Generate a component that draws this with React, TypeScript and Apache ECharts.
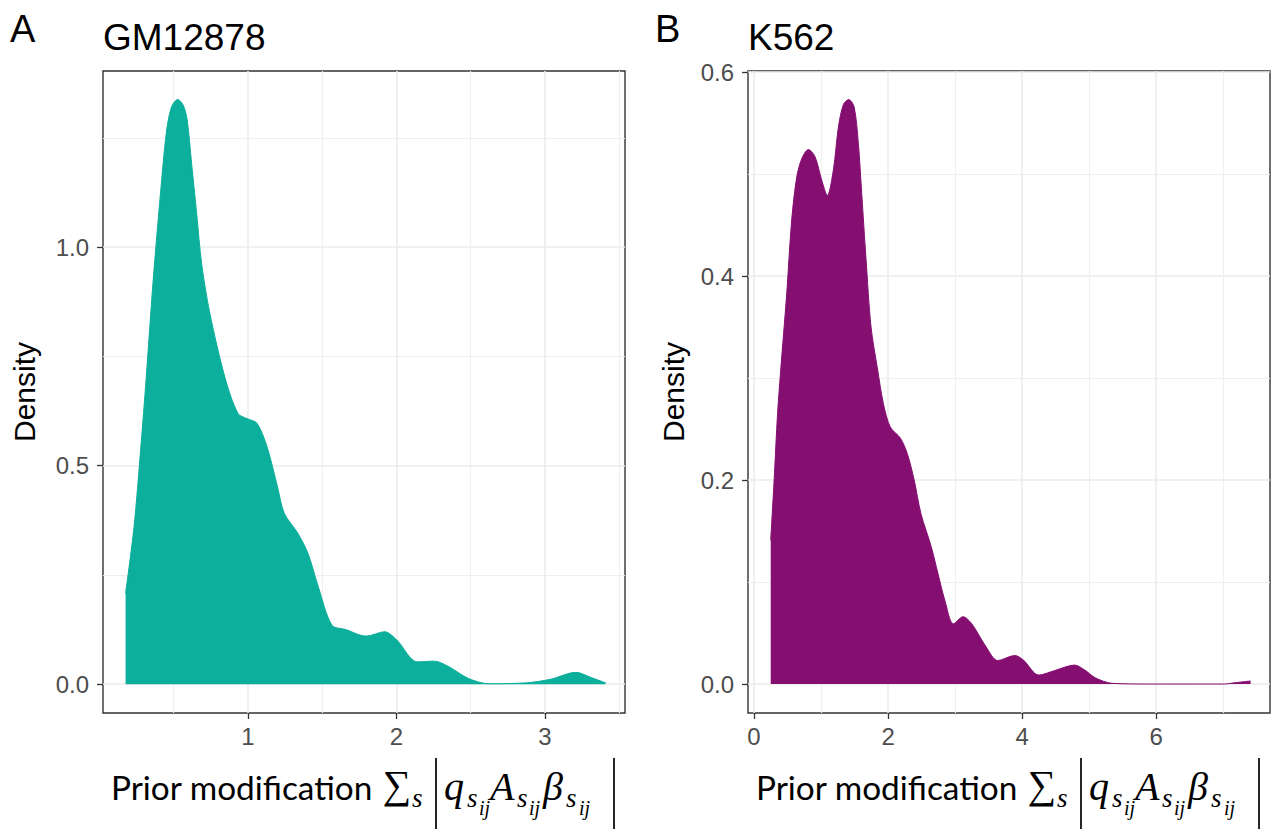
import React, { useEffect, useRef } from "react";
import * as echarts from "echarts";

// ---------- data ----------
const gmX = [0.176, 0.233, 0.279, 0.314, 0.362, 0.419, 0.453, 0.486, 0.527, 0.564, 0.591, 0.621, 0.655, 0.688, 0.744, 0.85, 0.934, 0.992, 1.061, 1.129, 1.199, 1.245, 1.337, 1.405, 1.474, 1.566, 1.658, 1.796, 1.922, 2.003, 2.141, 2.256, 2.348, 2.486, 2.623, 2.876, 3.037, 3.21, 3.313, 3.409];
const gmY = [0.2075, 0.36, 0.543, 0.696, 0.924, 1.153, 1.268, 1.321, 1.338, 1.325, 1.291, 1.191, 1.077, 0.963, 0.848, 0.696, 0.619, 0.608, 0.597, 0.543, 0.452, 0.391, 0.345, 0.299, 0.223, 0.135, 0.125, 0.11, 0.12, 0.101, 0.051, 0.0526, 0.041, 0.013, 0.001, 0.003, 0.011, 0.027, 0.015, 0.003];

const k5X = [0.249, 0.3, 0.351, 0.395, 0.488, 0.562, 0.637, 0.712, 0.811, 0.91, 1.01, 1.094, 1.184, 1.259, 1.333, 1.413, 1.493, 1.557, 1.607, 1.672, 1.746, 1.84, 1.93, 2.033, 2.185, 2.287, 2.39, 2.491, 2.643, 2.746, 2.848, 2.975, 3.12, 3.25, 3.458, 3.637, 3.891, 4.02, 4.248, 4.478, 4.783, 4.936, 5.09, 5.343, 5.9, 7.02, 7.18, 7.41];
const k5Y = [0.141, 0.2, 0.265, 0.305, 0.383, 0.455, 0.497, 0.515, 0.524, 0.517, 0.494, 0.479, 0.504, 0.546, 0.568, 0.573, 0.566, 0.53, 0.481, 0.416, 0.35, 0.31, 0.275, 0.252, 0.241, 0.226, 0.2, 0.167, 0.135, 0.108, 0.082, 0.059, 0.066, 0.059, 0.037, 0.023, 0.028, 0.0235, 0.0088, 0.013, 0.0186, 0.0137, 0.0062, 0.0007, 0, 0, 0.0013, 0.003];

const gmXTicks = [1, 2, 3];
const gmXMinor = [0.5, 1.5, 2.5, 3.5];
const gmYTicks = [0, 0.5, 1.0];
const gmYMinor = [0.25, 0.75, 1.25];
const k5XTicks = [0, 2, 4, 6];
const k5XMinor = [1, 3, 5, 7];
const k5YTicks = [0, 0.2, 0.4, 0.6];
const k5YMinor = [0.1, 0.3, 0.5];

const panelTitles = ["GM12878", "K562"];
const panelTags = ["A", "B"];
const yTitle = "Density";
const xTitleText = "Prior modification";

// ---------- styling ----------
const TEAL = "#0BAF9B";
const PURPLE = "#850F71";
const SANS = "Liberation Sans";

let measureCtx: CanvasRenderingContext2D | null = null;
function ctx2d() {
  if (!measureCtx) measureCtx = document.createElement("canvas").getContext("2d");
  return measureCtx as CanvasRenderingContext2D;
}
function textWidth(text: string, family: string, size: number, style = "normal") {
  const c = ctx2d();
  c.font = `${style} ${size}px "${family}"`;
  return c.measureText(text).width;
}
function midOffset(family: string, size: number, style = "normal") {
  const c = ctx2d();
  c.font = `${style} ${size}px "${family}"`;
  c.textBaseline = "alphabetic";
  const m: any = c.measureText("Hg");
  const a = m.fontBoundingBoxAscent;
  const d = m.fontBoundingBoxDescent;
  if (typeof a === "number" && typeof d === "number" && a > 0) return (a - d) / 2;
  return 0.35 * size;
}

function txt(text: string, x: number, baseline: number, family: string, size: number, style = "normal") {
  return {
    type: "text",
    x,
    y: baseline - midOffset(family, size, style),
    silent: true,
    style: {
      text,
      fill: "#000",
      fontFamily: family,
      fontSize: size,
      fontStyle: style,
      align: "left",
      textAlign: "left",
      verticalAlign: "middle",
      textVerticalAlign: "middle",
    },
  };
}
function bar(x: number) {
  return {
    type: "line",
    silent: true,
    shape: { x1: x, y1: 758, x2: x, y2: 829 },
    style: { stroke: "#000", lineWidth: 1.7 },
  };
}

function xTitle(cx: number) {
  const base = 800;
  const sub = base + 7;
  const subsub = base + 15;
  const sansFam = "Lato";
  const sansSize = (100 * 262) / textWidth(xTitleText, sansFam, 100);
  const M = "Liberation Serif";
  const main = 40;
  const s1 = 27;
  const s2 = 20;
  const sumSize = 40;
  const sumW = textWidth("∑", M, sumSize);
  return [
    txt(xTitleText, cx - 253, base, sansFam, sansSize),
    txt("∑", cx + 47 - sumW, base - 2, M, sumSize),
    txt("s", cx + 48, sub, M, s1, "italic"),
    bar(cx + 72),
    txt("q", cx + 80, base, M, main, "italic"),
    txt("s", cx + 103, sub, M, s1, "italic"),
    txt("ij", cx + 115, subsub, M, s2, "italic"),
    txt("A", cx + 126, base, M, main, "italic"),
    txt("s", cx + 153, sub, M, s1, "italic"),
    txt("ij", cx + 165, subsub, M, s2, "italic"),
    txt("β", cx + 179, base, M, main, "italic"),
    txt("s", cx + 202, sub, M, s1, "italic"),
    txt("ij", cx + 215, subsub, M, s2, "italic"),
    bar(cx + 250),
  ];
}

const fmt1 = (v: number) => v.toFixed(1);
const fmt0 = (v: number) => String(Math.round(v));

function mainX(gi: number, min: number, max: number, ticks: number[], fmt: (v: number) => string) {
  return {
    type: "value",
    gridIndex: gi,
    min,
    max,
    position: "bottom",
    axisLine: { show: false, onZero: false },
    axisTick: { show: true, customValues: ticks, length: 6, lineStyle: { color: "#333333", width: 1.3 } },
    axisLabel: { show: true, customValues: ticks, formatter: fmt, color: "#4D4D4D", fontSize: 24, fontFamily: SANS, margin: 11 },
    splitLine: { show: true, lineStyle: { color: "#EBEBEB", width: 1.6 } },
  };
}
function minorX(gi: number, min: number, max: number, ticks: number[]) {
  return {
    type: "value",
    gridIndex: gi,
    min,
    max,
    position: "bottom",
    axisLine: { show: false, onZero: false },
    axisTick: { show: false, customValues: ticks },
    axisLabel: { show: false, customValues: ticks },
    splitLine: { show: true, lineStyle: { color: "#EFEFEF", width: 1.2 } },
  };
}
function mainY(gi: number, min: number, max: number, ticks: number[], gap: number) {
  return {
    type: "value",
    gridIndex: gi,
    min,
    max,
    position: "left",
    name: yTitle,
    nameLocation: "middle",
    nameRotate: 90,
    nameGap: gap,
    nameTextStyle: { fontSize: 30, color: "#000", fontFamily: SANS },
    axisLine: { show: false, onZero: false },
    axisTick: { show: true, customValues: ticks, length: 6, lineStyle: { color: "#333333", width: 1.3 } },
    axisLabel: { show: true, customValues: ticks, formatter: fmt1, color: "#4D4D4D", fontSize: 24, fontFamily: SANS, margin: 14 },
    splitLine: { show: true, lineStyle: { color: "#EBEBEB", width: 1.6 } },
  };
}
function minorY(gi: number, min: number, max: number, ticks: number[]) {
  return {
    type: "value",
    gridIndex: gi,
    min,
    max,
    position: "left",
    axisLine: { show: false, onZero: false },
    axisTick: { show: false, customValues: ticks },
    axisLabel: { show: false, customValues: ticks },
    splitLine: { show: true, lineStyle: { color: "#EFEFEF", width: 1.2 } },
  };
}

function pairs(xs: number[], ys: number[]) {
  return xs.map((x, i) => [x, ys[i]]);
}

export default function App() {
  const ref = useRef<HTMLDivElement>(null);
  useEffect(() => {
    if (!ref.current) return;
    const chart = echarts.init(ref.current, undefined, { renderer: "svg" });
    const gridA = { left: 103, top: 71, width: 522, height: 642 };
    const gridB = { left: 748, top: 71, width: 522, height: 642 };
    const gridStyle = { show: true, borderColor: "#333333", borderWidth: 1.4, backgroundColor: "transparent" };
    const cxA = gridA.left + gridA.width / 2;
    const cxB = gridB.left + gridB.width / 2;
    const titleStyle = (size: number) => ({ fontSize: size, lineHeight: size, fontWeight: "normal", color: "#000", fontFamily: SANS });

    const option: any = {
      animation: false,
      backgroundColor: "#fff",
      title: [
        { text: panelTags[0], left: 10, top: 29 - 19, padding: 0, textStyle: titleStyle(38) },
        { text: panelTitles[0], left: 103, top: 37 - 18.5, padding: 0, textStyle: titleStyle(37) },
        { text: panelTags[1], left: 655, top: 29 - 19, padding: 0, textStyle: titleStyle(38) },
        { text: panelTitles[1], left: 748, top: 37 - 18.5, padding: 0, textStyle: titleStyle(37) },
      ],
      grid: [
        { ...gridA, ...gridStyle },
        { ...gridB, ...gridStyle },
      ],
      xAxis: [
        mainX(0, 0.024, 3.54, gmXTicks, fmt0),
        minorX(0, 0.024, 3.54, gmXMinor),
        mainX(1, -0.09, 7.7, k5XTicks, fmt0),
        minorX(1, -0.09, 7.7, k5XMinor),
      ],
      yAxis: [
        mainY(0, -0.066, 1.403, gmYTicks, 64),
        minorY(0, -0.066, 1.403, gmYMinor),
        mainY(1, -0.0284, 0.601, k5YTicks, 60),
        minorY(1, -0.0284, 0.601, k5YMinor),
      ],
      series: [
        {
          type: "line",
          xAxisIndex: 0,
          yAxisIndex: 0,
          data: pairs(gmX, gmY),
          smooth: 0.3,
          symbol: "none",
          silent: true,
          lineStyle: { color: TEAL, width: 1 },
          itemStyle: { color: TEAL },
          areaStyle: { color: TEAL, opacity: 1, origin: "auto" },
          z: 3,
        },
        {
          type: "line",
          xAxisIndex: 2,
          yAxisIndex: 2,
          data: pairs(k5X, k5Y),
          smooth: 0.3,
          symbol: "none",
          silent: true,
          lineStyle: { color: PURPLE, width: 1 },
          itemStyle: { color: PURPLE },
          areaStyle: { color: PURPLE, opacity: 1, origin: "auto" },
          z: 3,
        },
      ],
      graphic: [...xTitle(cxA), ...xTitle(cxB)],
    };
    chart.setOption(option);
    return () => chart.dispose();
  }, []);
  return (
    <div
      ref={ref}
      style={{ position: "fixed", left: 0, top: 0, width: 1274, height: 831, background: "#fff" }}
    />
  );
}
